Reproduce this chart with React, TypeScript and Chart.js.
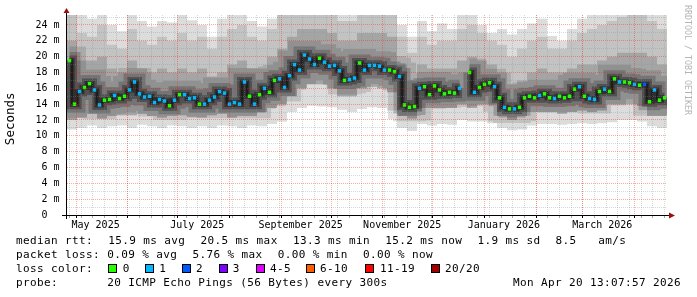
import React, { useEffect, useRef } from "react";
import { Chart, registerables } from "chart.js";

Chart.register(...registerables);

// ---------- time frame ----------
const START_MS = Date.UTC(2025, 3, 25, 13, 7, 57);
const END_MS = Date.UTC(2026, 3, 20, 13, 7, 57);
const DAY_MS = 86400000;
const SPAN_DAYS = (END_MS - START_MS) / DAY_MS;

// ---------- median rtt (ms), one value per 3 days ----------
const MEDIAN_STEP_DAYS = 3;
const medianRtt: (number | null)[] = [
  19.5, 14.0, 15.6, 16.1, 16.6, 15.8, 13.9, 14.5, 14.6, 15.1,
  14.7, 15.0, 15.8, 16.8, 15.3, 14.9, 15.0, 14.2, 14.6, 14.4,
  13.8, 14.5, 15.2, 15.2, 14.7, 14.8, 14.0, 14.0, 14.5, 14.9,
  15.6, 15.4, 14.0, 14.2, 14.0, 16.8, 15.0, 14.0, 15.2, 16.0,
  15.5, 17.0, 17.2, 16.1, 17.6, 19.0, 18.3, 20.2, 19.7, 19.0,
  19.8, 19.3, 18.8, 18.9, 18.2, 17.0, 17.1, 17.3, 19.2, 18.3,
  18.9, 18.9, 18.8, 18.3, 18.3, 18.1, 17.5, 13.9, 13.6, 13.7,
  16.0, 16.2, 15.2, 16.3, 15.8, 15.3, 15.5, 15.4, 16.0, null,
  18.0, 15.5, 16.1, 16.5, 16.7, 16.2, 14.8, 13.6, 13.4, 13.4,
  13.6, 14.8, 15.0, 14.8, 15.1, 15.3, 14.8, 14.7, 15.0, 14.8,
  15.0, 15.9, 16.2, 15.0, 14.7, 14.6, 15.6, 15.9, 15.6, 17.2,
  16.8, 16.8, 16.7, 16.5, 16.4, 16.5, 14.3, 15.8, 14.5, 14.8,
];

// loss bin index per median step (0 = no loss, 1 = 1/20, 2 = 2/20 ...)
const lossPerStep = [
  0, 0, 1, 0, 0, 1, 1, 0, 0, 1,
  0, 0, 1, 1, 1, 1, 1, 1, 1, 1,
  0, 1, 0, 1, 1, 1, 0, 1, 1, 1,
  1, 1, 1, 1, 1, 1, 0, 1, 0, 1,
  0, 0, 1, 1, 1, 1, 1, 1, 1, 1,
  0, 1, 1, 1, 1, 0, 1, 1, 0, 1,
  1, 1, 1, 1, 0, 0, 1, 0, 0, 0,
  1, 0, 0, 0, 0, 0, 0, 0, 1, 0,
  0, 1, 0, 0, 0, 1, 0, 1, 0, 1,
  0, 0, 0, 0, 1, 0, 0, 1, 0, 0,
  0, 0, 1, 0, 1, 1, 0, 1, 0, 0,
  1, 0, 0, 1, 0, 2, 0, 1, 0, 0,
];

// ---------- smoke envelopes (ms), one value per 6 days ----------
const SMOKE_STEP_DAYS = 6;
const smokeMax = [
  25.3, 25.3, 24.8, 25.3, 24.0, 23.2, 25.3, 24.5, 23.8, 24.5,
  24.3, 25.3, 24.6, 24.0, 22.5, 24.8, 25.3, 25.3, 24.5, 23.8,
  24.8, 25.3, 25.3, 25.3, 25.3, 25.3, 25.3, 25.3, 25.3, 25.3,
  25.3, 25.3, 25.3, 24.0, 22.5, 24.5, 23.2, 24.2, 23.5, 25.3,
  25.3, 24.0, 23.0, 23.5, 22.8, 23.5, 24.2, 24.8, 22.6, 22.0,
  23.5, 24.8, 25.3, 25.3, 25.3, 25.3, 25.3, 25.3, 25.3, 25.3,
];
const smokeUpper = [
  25.3, 23.0, 22.5, 24.0, 21.5, 21.0, 23.5, 22.0, 21.5, 22.5,
  22.0, 23.0, 22.0, 22.5, 21.0, 22.5, 23.5, 24.0, 22.5, 22.0,
  23.5, 25.3, 25.3, 25.3, 25.3, 25.3, 25.3, 24.5, 24.5, 25.3,
  25.3, 25.3, 25.3, 22.5, 20.5, 22.5, 21.5, 22.0, 22.0, 23.5,
  24.0, 23.0, 22.0, 21.5, 20.0, 21.0, 22.0, 22.5, 21.0, 21.0,
  22.0, 23.0, 23.5, 24.0, 24.5, 25.0, 25.3, 25.3, 24.5, 23.5,
];
const smokeHigh = [
  22.0, 19.5, 19.5, 20.0, 18.5, 18.0, 19.5, 18.5, 18.0, 18.5,
  18.0, 18.5, 18.0, 18.5, 17.5, 18.0, 19.0, 19.5, 18.5, 18.5,
  20.0, 21.0, 22.5, 23.5, 23.5, 23.5, 23.0, 22.0, 22.0, 23.0,
  23.0, 23.0, 22.5, 19.0, 17.0, 19.0, 18.5, 18.5, 18.5, 19.5,
  20.0, 19.5, 19.0, 18.0, 16.5, 17.0, 18.0, 18.5, 18.0, 18.0,
  18.5, 19.0, 19.0, 19.5, 20.0, 20.5, 20.5, 20.5, 20.0, 19.0,
];
const smokeLow = [
  12.0, 12.3, 12.8, 12.2, 12.5, 12.6, 12.6, 12.8, 12.5, 12.3,
  12.5, 12.6, 12.4, 12.3, 12.6, 12.8, 12.3, 12.5, 12.5, 13.0,
  13.5, 14.0, 15.0, 16.0, 16.5, 16.5, 16.0, 15.0, 15.0, 16.0,
  16.2, 16.0, 15.5, 12.5, 12.2, 13.5, 13.5, 13.5, 13.5, 14.0,
  13.5, 14.0, 14.0, 12.5, 12.0, 12.5, 13.0, 13.0, 13.0, 12.8,
  13.0, 13.2, 13.0, 13.2, 14.0, 14.0, 14.0, 13.8, 12.5, 12.5,
];
const smokeMin = [
  10.8, 11.0, 11.3, 11.0, 11.2, 11.3, 11.0, 11.4, 11.2, 11.0,
  11.3, 11.2, 11.0, 11.2, 11.0, 11.3, 11.2, 11.0, 11.3, 11.2,
  11.5, 11.8, 13.0, 13.5, 13.8, 13.7, 13.6, 13.3, 13.0, 13.4,
  13.6, 13.5, 13.2, 11.0, 10.6, 11.5, 11.3, 11.5, 11.4, 12.0,
  11.8, 11.8, 11.6, 11.0, 10.7, 10.8, 11.3, 11.5, 11.5, 11.4,
  11.5, 11.6, 11.5, 11.6, 11.7, 12.0, 12.0, 11.8, 11.2, 11.0,
];

// ---------- axes ----------
const Y_MAX = 25.26;
const yTickValues = [0, 1, 2, 3, 4, 5, 6, 7, 8, 9, 10, 11, 12, 13, 14, 15, 16, 17, 18, 19, 20, 21, 22, 23, 24, 25];
const xLabelMonths: [number, number][] = [[2025, 4], [2025, 6], [2025, 8], [2025, 10], [2026, 0], [2026, 2]];
const xLabelTexts = ["May 2025", "July 2025", "September 2025", "November 2025", "January 2026", "March 2026"];

// ---------- legend ----------
const lossBins = ["0", "1", "2", "3", "4-5", "6-10", "11-19", "20/20"];
const lossColors = ["#26ff00", "#00b8ff", "#0059ff", "#7e00ff", "#dd00ff", "#ff5e00", "#ff0000", "#a10000"];
const rttStats = ["15.9 ms avg", "20.5 ms max", "13.3 ms min", "15.2 ms now", "1.9 ms sd", "8.5", "am/s"];
const lossStats = ["0.09 % avg", "5.76 % max", "0.00 % min", "0.00 % now"];
const probeText = "20 ICMP Echo Pings (56 Bytes) every 300s";
const dateText = "Mon Apr 20 13:07:57 2026";
const yTitle = "Seconds";
const watermark = "RRDTOOL / TOBI OETIKER";

const MONO = '"DejaVu Sans Mono", monospace';
const MAJOR_GRID = "rgba(255,20,20,0.38)";
const MINOR_GRID = "rgba(140,140,140,0.35)";

const toDay = (ms: number) => (ms - START_MS) / DAY_MS;

function buildXTicks() {
  const ticks: any[] = [];
  for (let t = Date.UTC(2025, 3, 27); t <= END_MS; t += 7 * DAY_MS) {
    ticks.push({ value: toDay(t), kind: "week" });
  }
  let y = 2025;
  let m = 4;
  for (;;) {
    const t = Date.UTC(y, m, 1);
    if (t > END_MS) break;
    ticks.push({ value: toDay(t), kind: "month" });
    m++;
    if (m > 11) { m = 0; y++; }
  }
  xLabelMonths.forEach(([yy, mm], i) => {
    ticks.push({ value: toDay(Date.UTC(yy, mm, 1)) + 11.7, kind: "label", text: xLabelTexts[i] });
  });
  ticks.sort((a, b) => a.value - b.value);
  return ticks;
}

function smokePoints(arr: number[]) {
  const pts = arr.map((v, j) => ({ x: j * SMOKE_STEP_DAYS, y: v }));
  pts.push({ x: SPAN_DAYS, y: arr[arr.length - 1] });
  return pts;
}

const medianPoints = () =>
  medianRtt.map((v, i) => ({ x: i * MEDIAN_STEP_DAYS + MEDIAN_STEP_DAYS / 2, y: v }));

const decorPlugin = {
  id: "rrdDecor",
  afterDraw(chart: any) {
    const { ctx, chartArea: a } = chart;
    ctx.save();
    // axes lines
    ctx.strokeStyle = "#000";
    ctx.lineWidth = 1;
    ctx.beginPath();
    ctx.moveTo(a.left - 0.5, a.bottom + 4);
    ctx.lineTo(a.left - 0.5, a.top - 3);
    ctx.stroke();
    ctx.beginPath();
    ctx.moveTo(a.left - 5, a.bottom + 0.5);
    ctx.lineTo(a.right + 2, a.bottom + 0.5);
    ctx.stroke();
    // arrows
    ctx.fillStyle = "#9a1010";
    ctx.beginPath();
    ctx.moveTo(a.left - 0.5, a.top - 7);
    ctx.lineTo(a.left - 3.5, a.top - 2);
    ctx.lineTo(a.left + 2.5, a.top - 2);
    ctx.closePath();
    ctx.fill();
    ctx.beginPath();
    ctx.moveTo(a.right + 8, a.bottom + 0.5);
    ctx.lineTo(a.right + 2, a.bottom - 2.5);
    ctx.lineTo(a.right + 2, a.bottom + 3.5);
    ctx.closePath();
    ctx.fill();

    // y title
    ctx.fillStyle = "#000";
    ctx.save();
    ctx.translate(10.7, 118.8);
    ctx.rotate(-Math.PI / 2);
    ctx.font = `12.5px ${MONO}`;
    ctx.textAlign = "center";
    ctx.textBaseline = "middle";
    ctx.fillText(yTitle, 0, 0);
    ctx.restore();

    // watermark
    ctx.save();
    ctx.translate(687.5, 5);
    ctx.rotate(Math.PI / 2);
    ctx.font = `8.3px ${MONO}`;
    ctx.fillStyle = "#b4b4b4";
    ctx.textAlign = "left";
    ctx.textBaseline = "middle";
    ctx.fillText(watermark, 0, 0);
    ctx.restore();

    // legend
    ctx.font = `11px ${MONO}`;
    if ("letterSpacing" in ctx) (ctx as any).letterSpacing = "0.38px";
    ctx.textAlign = "left";
    ctx.textBaseline = "alphabetic";
    ctx.fillStyle = "#000";
    const rowY = [244.3, 258.3, 272.3, 286];
    const col = (c: number) => 16 + c * 7.1;
    const rttCols = [13, 26, 39, 52, 65, 76, 82];
    const lossCols = [13, 25, 37, 49];
    ctx.fillText("median rtt:", 16, rowY[0]);
    rttStats.forEach((s, i) => ctx.fillText(s, col(rttCols[i]), rowY[0]));
    ctx.fillText("packet loss:", 16, rowY[1]);
    lossStats.forEach((s, i) => ctx.fillText(s, col(lossCols[i]) - 1, rowY[1]));
    ctx.fillText("loss color:", 16, rowY[2]);
    const boxX = [108, 145, 182, 219, 256, 306, 365, 431];
    const boxLabelX = [122.7, 159.3, 196, 232.7, 270, 320, 380, 445];
    lossBins.forEach((b, i) => {
      ctx.fillStyle = lossColors[i];
      ctx.fillRect(boxX[i] + 0.5, 264.5, 8, 8);
      ctx.strokeStyle = "#000";
      ctx.strokeRect(boxX[i] + 0.5, 264.5, 8, 8);
      ctx.fillStyle = "#000";
      ctx.fillText(b, boxLabelX[i], rowY[2]);
    });
    ctx.fillText("probe:", 16, rowY[3]);
    ctx.fillText(probeText, 107.3, rowY[3]);
    ctx.textAlign = "right";
    ctx.fillText(dateText, 681, rowY[3]);
    if ("letterSpacing" in ctx) (ctx as any).letterSpacing = "0px";
    ctx.restore();
  },
};

const smokeLine = (data: any, extra: any) => ({
  data,
  stepped: true,
  borderWidth: 0,
  borderColor: "rgba(0,0,0,0)",
  pointRadius: 0,
  fill: false,
  ...extra,
});

const haloLine = (data: any, width: number, color: string, order: number) => ({
  data,
  stepped: "middle",
  borderWidth: width,
  borderColor: color,
  borderCapStyle: "butt",
  borderJoinStyle: "miter",
  fill: false,
  pointRadius: 0,
  order,
});

export default function App() {
  const ref = useRef<HTMLCanvasElement>(null);
  useEffect(() => {
    if (!ref.current) return;
    const xTicks = buildXTicks();
    const mpts = medianPoints();
    const chart = new Chart(ref.current, {
      type: "line",
      data: {
        datasets: [
          smokeLine(smokePoints(smokeMax), { backgroundColor: "#dcdcdc", fill: 1, order: 30 }),
          smokeLine(smokePoints(smokeMin), { order: 30 }),
          smokeLine(smokePoints(smokeUpper), { backgroundColor: "#c3c3c3", fill: 3, order: 29 }),
          smokeLine(smokePoints(smokeLow), { order: 29 }),
          smokeLine(smokePoints(smokeHigh), { backgroundColor: "#a5a5a5", fill: 5, order: 28 }),
          smokeLine(smokePoints(smokeLow), { order: 28 }),
          haloLine(mpts, 28, "rgba(0,0,0,0.12)", 12),
          haloLine(mpts, 17, "rgba(0,0,0,0.2)", 11),
          haloLine(mpts, 10, "rgba(0,0,0,0.3)", 10),
          haloLine(mpts, 5, "rgba(0,0,0,0.42)", 9),
          haloLine(mpts, 1, "rgba(10,10,10,0.9)", 8),
          {
            data: mpts,
            showLine: false,
            pointStyle: "rect",
            pointRadius: 2.5,
            pointBorderWidth: 0,
            pointBackgroundColor: lossPerStep.map((l) => lossColors[l]),
            order: 1,
          },
        ] as any,
      },
      options: {
        responsive: false,
        animation: false,
        devicePixelRatio: 1,
        events: [],
        layout: { padding: { top: 15, right: 30, left: 0, bottom: 0 } },
        plugins: { legend: { display: false }, tooltip: { enabled: false } },
        scales: {
          x: {
            type: "linear",
            min: 0,
            max: SPAN_DAYS,
            afterBuildTicks: (scale: any) => {
              scale.ticks = xTicks.map((t) => ({ ...t }));
            },
            afterFit: (scale: any) => {
              scale.height = 82;
            },
            border: { display: false, dash: [1, 1] },
            grid: {
              z: 1,
              lineWidth: 1,
              color: (c: any) =>
                c.tick && c.tick.kind === "month" ? MAJOR_GRID : c.tick && c.tick.kind === "week" ? MINOR_GRID : "rgba(0,0,0,0)",
              drawTicks: true,
              tickLength: 3,
              tickColor: (c: any) =>
                c.tick && c.tick.kind === "month" ? "#000" : c.tick && c.tick.kind === "week" ? "rgba(0,0,0,0.35)" : "rgba(0,0,0,0)",
            },
            ticks: {
              autoSkip: false,
              maxRotation: 0,
              minRotation: 0,
              padding: 1,
              color: "#000",
              font: { family: MONO, size: 10, lineHeight: 1.2 },
              callback: (_v: any, i: number, ticks: any[]) => (ticks[i] && ticks[i].kind === "label" ? ticks[i].text : ""),
            },
          },
          y: {
            type: "linear",
            min: 0,
            max: Y_MAX,
            afterBuildTicks: (scale: any) => {
              scale.ticks = yTickValues.map((v) => ({ value: v }));
            },
            afterFit: (scale: any) => {
              scale.width = 67;
            },
            border: { display: false, dash: [1, 1] },
            grid: {
              z: 1,
              lineWidth: 1,
              color: (c: any) => (c.tick && c.tick.value % 2 === 0 ? MAJOR_GRID : MINOR_GRID),
              drawTicks: false,
            },
            ticks: {
              autoSkip: false,
              padding: 7.5,
              color: "#000",
              font: { family: MONO, size: 10, lineHeight: 1.2 },
              callback: (v: any) => {
                const n = Number(v);
                if (n % 2 !== 0) return "";
                return n === 0 ? "0  " : `${n} m`;
              },
            },
          },
        },
      } as any,
      plugins: [decorPlugin],
    });
    return () => chart.destroy();
  }, []);
  return (
    <div style={{ position: "fixed", left: 0, top: 0, width: 697, height: 297, background: "#fff" }}>
      <canvas ref={ref} width={697} height={297} style={{ display: "block" }} />
    </div>
  );
}
